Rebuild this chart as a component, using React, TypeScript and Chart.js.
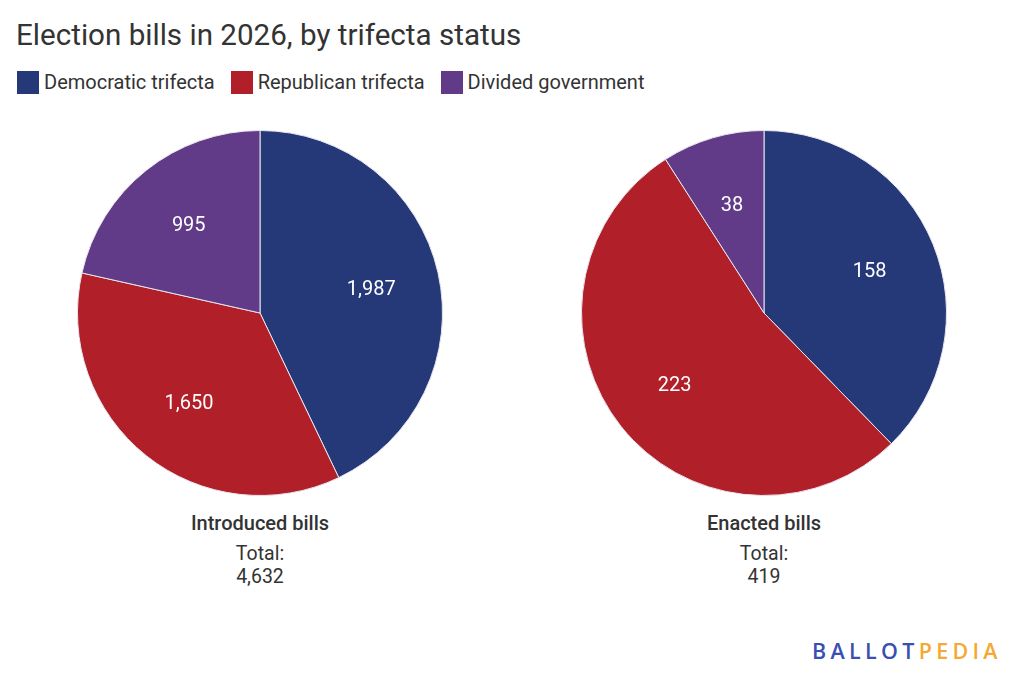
import React, { useEffect, useRef } from "react";
import { Chart, registerables } from "chart.js";

Chart.register(...registerables);

const categories = ["Democratic trifecta", "Republican trifecta", "Divided government"];
const colors = ["#253878", "#b11f29", "#613b87"];
const introducedValues = [1987, 1650, 995];
const enactedValues = [158, 223, 38];
const pieTitles = ["Introduced bills", "Enacted bills"];
const totalLabels = ["4,632", "419"];

const FONT = "Roboto, 'Noto Sans', sans-serif";

const labelPlugin = {
  id: "sliceLabels",
  afterDatasetsDraw(chart: any) {
    const ctx = chart.ctx;
    const meta = chart.getDatasetMeta(0);
    const data = chart.data.datasets[0].data as number[];
    ctx.save();
    ctx.fillStyle = "#ffffff";
    ctx.font = `20px ${FONT}`;
    ctx.textAlign = "center";
    ctx.textBaseline = "middle";
    meta.data.forEach((arc: any, i: number) => {
      const p = arc.getProps(["x", "y", "startAngle", "endAngle", "outerRadius"], true);
      const mid = (p.startAngle + p.endAngle) / 2;
      const r = p.outerRadius * 0.625;
      ctx.fillText(data[i].toLocaleString("en-US"), p.x + Math.cos(mid) * r, p.y + Math.sin(mid) * r + 2);
    });
    ctx.restore();
  },
};

function Pie({ values, left }: { values: number[]; left: number }) {
  const ref = useRef<HTMLCanvasElement>(null);
  useEffect(() => {
    if (!ref.current) return;
    const chart = new Chart(ref.current, {
      type: "pie",
      data: {
        labels: categories,
        datasets: [
          {
            data: values,
            backgroundColor: colors,
            borderColor: "#e8e4ee",
            borderWidth: 1,
          },
        ],
      },
      options: {
        animation: false,
        responsive: false,
        maintainAspectRatio: false,
        layout: { padding: 0 },
        plugins: { legend: { display: false }, tooltip: { enabled: false } },
      },
      plugins: [labelPlugin],
    });
    return () => chart.destroy();
  }, [values]);
  return (
    <canvas
      ref={ref}
      width={366}
      height={366}
      style={{ position: "absolute", left, top: 130, width: 366, height: 366 }}
    />
  );
}

function Caption({ cx, title, total }: { cx: number; title: string; total: string }) {
  const common: React.CSSProperties = {
    position: "absolute",
    left: cx - 150,
    width: 300,
    textAlign: "center",
    color: "#333333",
    fontFamily: FONT,
    lineHeight: "24px",
    whiteSpace: "nowrap",
  };
  return (
    <>
      <div style={{ ...common, top: 511, fontSize: 20, fontWeight: 500 }}>{title}</div>
      <div style={{ ...common, top: 542, fontSize: 19.5 }}>Total:</div>
      <div style={{ ...common, top: 565, fontSize: 19.5 }}>{total}</div>
    </>
  );
}

export default function App() {
  useEffect(() => {
    document.body.style.margin = "0";
  }, []);
  return (
    <div
      style={{
        position: "relative",
        width: 1024,
        height: 684,
        background: "#ffffff",
        fontFamily: FONT,
        overflow: "hidden",
      }}
    >
      <div
        style={{
          position: "absolute",
          left: 16,
          top: 16,
          fontSize: 29.6,
          lineHeight: "38px",
          color: "#333333",
          whiteSpace: "nowrap",
        }}
      >
        Election bills in 2026, by trifecta status
      </div>
      <div
        style={{
          position: "absolute",
          left: 17,
          top: 70,
          display: "flex",
          alignItems: "center",
          height: 24,
        }}
      >
        {categories.map((c, i) => (
          <div key={c} style={{ display: "flex", alignItems: "center", marginRight: 16 }}>
            <div style={{ width: 22, height: 23, background: colors[i], marginRight: 5 }} />
            <span style={{ fontSize: 20, color: "#333333", whiteSpace: "nowrap" }}>{c}</span>
          </div>
        ))}
      </div>
      <Pie values={introducedValues} left={77} />
      <Pie values={enactedValues} left={581} />
      <Caption cx={260} title={pieTitles[0]} total={totalLabels[0]} />
      <Caption cx={764} title={pieTitles[1]} total={totalLabels[1]} />
      <div
        style={{
          position: "absolute",
          left: 812,
          top: 638,
          fontSize: 21.5,
          fontWeight: 600,
          fontFamily: "'Open Sans', Roboto, sans-serif",
          letterSpacing: 4.3,
          lineHeight: "26px",
          whiteSpace: "nowrap",
        }}
      >
        <span style={{ color: "#3a4fb3" }}>BALLOT</span>
        <span style={{ color: "#f5a833" }}>PEDIA</span>
      </div>
    </div>
  );
}
